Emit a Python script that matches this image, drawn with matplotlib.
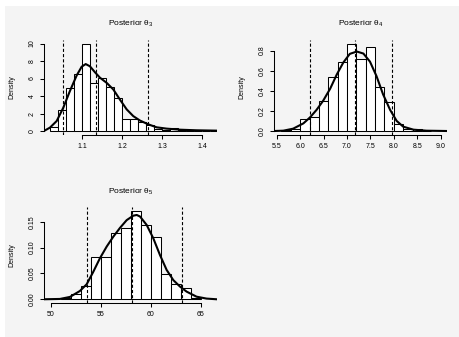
import matplotlib
matplotlib.use("Agg")
import matplotlib.pyplot as plt
from matplotlib.patches import Rectangle

plt.rcParams["font.family"] = ["Liberation Sans", "DejaVu Sans"]
plt.rcParams["mathtext.fontset"] = "custom"
plt.rcParams["mathtext.rm"] = "Liberation Sans"

W, H = 460, 337

# --- theta 3 ---
t3_start, t3_width = 1.02, 0.02
t3_heights = [0.46, 2.36, 4.87, 6.46, 10.0, 5.5, 6.08, 5.0, 3.8, 1.4, 1.33,
              1.06, 0.65, 0.2, 0.15, 0.38, 0.15, 0.1, 0.05, 0.03, 0.02]
t3_curve_x = [1.004, 1.019, 1.036, 1.0525, 1.069, 1.086, 1.0985, 1.1085, 1.119,
              1.132, 1.144, 1.161, 1.1775, 1.194, 1.211, 1.2275, 1.244, 1.265,
              1.286, 1.311, 1.344, 1.386, 1.436]
t3_curve_y = [0.0, 0.38, 1.14, 2.66, 4.56, 6.35, 7.35, 7.65, 7.4, 6.7, 6.1, 5.5,
              4.75, 3.6, 2.47, 1.7, 1.2, 0.76, 0.42, 0.27, 0.15, 0.08, 0.04]
t3_lines = [1.051, 1.1335, 1.265]
t3_xticks = [1.1, 1.2, 1.3, 1.4]
t3_yticks = [0, 2, 4, 6, 8, 10]

# --- theta 4 ---
t4_start, t4_width = 5.6, 0.2
t4_heights = [0.005, 0.02, 0.12, 0.135, 0.30, 0.54, 0.69, 0.87, 0.717, 0.833,
              0.433, 0.29, 0.066, 0.017, 0.023, 0.004]
t4_curve_x = [5.442, 5.64, 5.85, 6.07, 6.21, 6.35, 6.49, 6.64, 6.78, 6.92, 7.06,
              7.21, 7.35, 7.49, 7.63, 7.77, 7.92, 8.06, 8.20, 8.42, 8.70, 9.13]
t4_curve_y = [0.0, 0.003, 0.023, 0.076, 0.135, 0.21, 0.30, 0.42, 0.56, 0.68,
              0.767, 0.79, 0.77, 0.69, 0.545, 0.364, 0.21, 0.10, 0.043, 0.013,
              0.003, 0.0]
t4_lines = [6.21, 7.17, 7.95]
t4_xticks = [5.5, 6.0, 6.5, 7.0, 7.5, 8.0, 8.5, 9.0]
t4_yticks = [0.0, 0.2, 0.4, 0.6, 0.8]

# --- theta 5 ---
t5_start, t5_width = 51, 1
t5_heights = [0.002, 0.0097, 0.026, 0.081, 0.081, 0.129, 0.137, 0.171, 0.1435,
              0.121, 0.048, 0.0296, 0.021, 0.003]
t5_curve_x = [49.3, 50.9, 51.9, 52.9, 53.58, 54.24, 54.9, 55.59, 56.25, 56.92,
              57.59, 58.25, 58.6, 58.93, 59.6, 60.26, 60.93, 61.6, 62.27, 62.94,
              63.6, 64.6, 65.6, 66.6]
t5_curve_y = [0.0, 0.0006, 0.0045, 0.016, 0.029, 0.053, 0.079, 0.102, 0.121,
              0.138, 0.153, 0.1616, 0.163, 0.16, 0.1436, 0.118, 0.0856, 0.0567,
              0.037, 0.0245, 0.0148, 0.005, 0.0013, 0.0]
t5_lines = [53.61, 58.09, 63.1]
t5_xticks = [50, 55, 60, 65]
t5_yticks = [0.0, 0.05, 0.10, 0.15]

panels = [
    # title, start, width, heights, cx, cy, lines, xticks, yticks, fmt_x, fmt_y, box px, xlim
    ("Posterior θ$_3$", t3_start, t3_width, t3_heights, t3_curve_x, t3_curve_y,
     t3_lines, t3_xticks, t3_yticks, "{:.1f}", "{:g}", (44, 217, 40, 134.5), (1.0043, 1.4368)),
    ("Posterior θ$_4$", t4_start, t4_width, t4_heights, t4_curve_x, t4_curve_y,
     t4_lines, t4_xticks, t4_yticks, "{:.1f}", "{:.1f}", (274, 447, 40, 134.5), (5.442, 9.134)),
    ("Posterior θ$_5$", t5_start, t5_width, t5_heights, t5_curve_x, t5_curve_y,
     t5_lines, t5_xticks, t5_yticks, "{:g}", "{:.2f}", (44, 217, 207.3, 302.8), (49.3, 66.65)),
]

fig = plt.figure(figsize=(W / 100, H / 100), dpi=100, facecolor="#f4f4f4")
# white strips along top and left edge of the image
fig.patches.append(Rectangle((0, 1 - 6 / H), 1, 6 / H, transform=fig.transFigure,
                             facecolor="white", edgecolor="none", zorder=-1))
fig.patches.append(Rectangle((0, 0), 5 / W, 1, transform=fig.transFigure,
                             facecolor="white", edgecolor="none", zorder=-1))

for (title, start, width, heights, cx, cy, lines, xticks, yticks, fx, fy,
     box, xlim) in panels:
    x0, x1, ytop, ybot = box
    ax = fig.add_axes([x0 / W, 1 - ybot / H, (x1 - x0) / W, (ybot - ytop) / H])
    ax.patch.set_alpha(0)
    lefts = [start + i * width for i in range(len(heights))]
    ax.bar(lefts, heights, width=width, align="edge", color="white",
           edgecolor="black", linewidth=0.75, zorder=2)
    ax.plot(cx, cy, color="black", linewidth=1.5, zorder=3)
    for v in lines:
        ax.axvline(v, color="black", linewidth=0.8, linestyle=(0, (2.8, 1.9)), zorder=4)
    ymax = max(heights)
    ax.set_ylim(-0.04 * ymax, 1.04 * ymax)
    ax.set_xlim(*xlim)
    ax.set_xticks(xticks)
    ax.set_xticklabels([fx.format(v) for v in xticks])
    ax.set_yticks(yticks)
    ax.set_yticklabels([fy.format(v) for v in yticks], rotation=90, va="center")
    for s in ("top", "right"):
        ax.spines[s].set_visible(False)
    ax.spines["bottom"].set_bounds(xticks[0], xticks[-1])
    ax.spines["left"].set_bounds(yticks[0], yticks[-1])
    for s in ("bottom", "left"):
        ax.spines[s].set_linewidth(0.75)
    ax.tick_params(length=3, width=0.75, labelsize=5, pad=3)
    cxp = (x0 + x1) / 2 / W
    fig.text(cxp, 1 - (ytop - 16) / H, title, ha="center", va="center", fontsize=6)
    fig.text((x0 - 32) / W, 1 - (ytop + ybot) / 2 / H, "Density", rotation=90,
             ha="center", va="center", fontsize=5)

fig.savefig("out.png", dpi=100, facecolor=fig.get_facecolor())
